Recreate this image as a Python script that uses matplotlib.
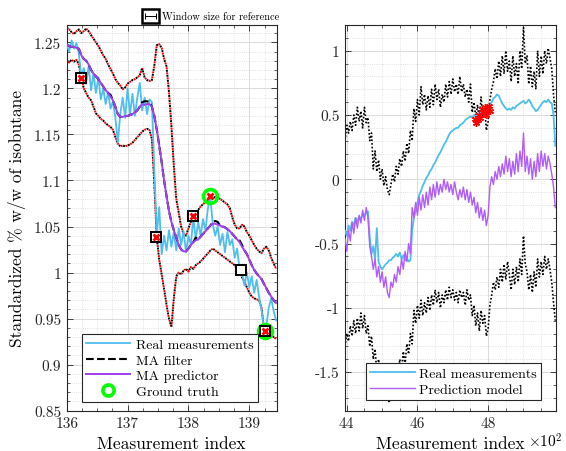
import matplotlib
matplotlib.use('Agg')
import matplotlib.pyplot as plt
from matplotlib.lines import Line2D
from matplotlib.patches import Rectangle
from matplotlib.ticker import MultipleLocator, FuncFormatter
import numpy as np

plt.rcParams.update({
    'font.family': 'cmr10', 'mathtext.fontset': 'cm',
    'axes.unicode_minus': False, 'axes.linewidth': 0.8,
    'axes.edgecolor': '#262626', 'xtick.color': '#262626', 'ytick.color': '#262626',
})

W, H = 566, 452
BLUE, PURPLE, PURPLE2 = '#4DBEEE', '#A040F0', '#B05CFA'

# ---------------- left panel data ----------------
x_left = np.arange(13600, 13945, 4) / 100.0
real_left = [1.248, 1.240, 1.252, 1.243, 1.249, 1.238, 1.212, 1.222, 1.205, 1.224,
             1.198, 1.216, 1.195, 1.212, 1.188, 1.200, 1.183, 1.196, 1.178, 1.186,
             1.168, 1.141, 1.172, 1.190, 1.168, 1.200, 1.172, 1.194, 1.170, 1.190,
             1.206, 1.176, 1.190, 1.172, 1.188, 1.185, 1.110, 1.042, 1.071, 1.020,
             1.040, 1.024, 1.046, 1.028, 1.044, 1.024, 1.048, 1.030, 1.045, 1.022,
             1.040, 1.030, 1.060, 1.036, 1.055, 1.040, 1.058, 1.046, 1.070, 1.083,
             1.052, 1.040, 1.050, 1.030, 1.042, 1.022, 1.044, 1.030, 1.036, 1.016,
             1.026, 1.004, 1.000, 0.986, 1.000, 0.984, 0.996, 0.978, 0.992, 0.974,
             0.960, 0.940, 0.942, 0.962, 0.972, 0.958, 0.948]
pred_left = [1.248, 1.246, 1.245, 1.245, 1.244, 1.243, 1.236, 1.232, 1.230, 1.226,
             1.220, 1.216, 1.213, 1.210, 1.206, 1.202, 1.198, 1.195, 1.191, 1.187,
             1.180, 1.172, 1.169, 1.169, 1.170, 1.170, 1.171, 1.172, 1.174, 1.176,
             1.180, 1.183, 1.182, 1.183, 1.183, 1.180, 1.170, 1.155, 1.138, 1.120,
             1.100, 1.083, 1.067, 1.055, 1.046, 1.038, 1.030, 1.025, 1.023, 1.023,
             1.026, 1.030, 1.033, 1.035, 1.036, 1.039, 1.042, 1.045, 1.048, 1.051,
             1.053, 1.053, 1.052, 1.051, 1.050, 1.049, 1.047, 1.045, 1.042, 1.039,
             1.036, 1.033, 1.028, 1.024, 1.020, 1.014, 1.008, 1.003, 0.999, 0.996,
             0.993, 0.988, 0.983, 0.978, 0.974, 0.970, 0.967]
ma_left = [1.248, 1.246, 1.245, 1.245, 1.244, 1.243, 1.236, 1.232, 1.230, 1.226,
           1.220, 1.216, 1.213, 1.210, 1.206, 1.202, 1.198, 1.195, 1.193, 1.187,
           1.180, 1.172, 1.169, 1.169, 1.170, 1.170, 1.171, 1.172, 1.174, 1.176,
           1.180, 1.185, 1.186, 1.186, 1.185, 1.180, 1.170, 1.155, 1.138, 1.120,
           1.100, 1.083, 1.067, 1.055, 1.046, 1.038, 1.030, 1.025, 1.023, 1.023,
           1.026, 1.030, 1.033, 1.038, 1.036, 1.039, 1.042, 1.045, 1.048, 1.051,
           1.055, 1.056, 1.055, 1.051, 1.050, 1.049, 1.047, 1.045, 1.042, 1.039,
           1.036, 1.035, 1.030, 1.024, 1.020, 1.014, 1.008, 1.003, 0.999, 0.996,
           0.993, 0.988, 0.983, 0.978, 0.974, 0.970, 0.967]
upper_left = [1.266, 1.264, 1.261, 1.259, 1.262, 1.264, 1.260, 1.262, 1.265, 1.262,
              1.258, 1.254, 1.250, 1.246, 1.241, 1.236, 1.232, 1.226, 1.221, 1.216,
              1.210, 1.206, 1.203, 1.199, 1.201, 1.205, 1.207, 1.209, 1.210, 1.212,
              1.214, 1.222, 1.212, 1.209, 1.208, 1.209, 1.225, 1.247, 1.248, 1.244,
              1.232, 1.224, 1.196, 1.159, 1.116, 1.080, 1.065, 1.050, 1.042, 1.040,
              1.048, 1.055, 1.061, 1.064, 1.068, 1.072, 1.074, 1.077, 1.079, 1.080,
              1.081, 1.082, 1.081, 1.080, 1.078, 1.076, 1.074, 1.070, 1.060, 1.052,
              1.048, 1.048, 1.052, 1.050, 1.044, 1.040, 1.035, 1.030, 1.026, 1.023,
              1.021, 1.026, 1.028, 1.024, 1.016, 1.010, 1.004]
lower_left = [1.231, 1.228, 1.231, 1.229, 1.231, 1.226, 1.212, 1.200, 1.195, 1.190,
              1.187, 1.180, 1.173, 1.170, 1.167, 1.165, 1.162, 1.160, 1.158, 1.155,
              1.147, 1.140, 1.137, 1.138, 1.137, 1.138, 1.139, 1.141, 1.144, 1.147,
              1.150, 1.153, 1.155, 1.156, 1.155, 1.145, 1.095, 1.038, 1.014, 0.998,
              0.982, 0.965, 0.950, 0.941, 0.972, 0.996, 1.000, 0.998, 1.002, 1.004,
              1.001, 1.006, 1.004, 1.008, 1.010, 1.012, 1.015, 1.018, 1.021, 1.024,
              1.026, 1.024, 1.022, 1.020, 1.018, 1.016, 1.014, 1.012, 1.010, 1.008,
              1.004, 1.000, 0.995, 0.990, 0.984, 0.978, 0.974, 0.972, 0.971, 0.970,
              0.962, 0.940, 0.938, 0.935, 0.932, 0.930, 0.928]

win_x = [136.23, 137.475, 138.07, 139.26]
win_y = [1.2116, 1.039, 1.061, 0.937]
win_empty_x, win_empty_y = [138.87], [1.0025]
truth_x = [138.36, 139.26]
truth_y = [1.083, 0.937]

# ---------------- right panel data ----------------
x_right = np.arange(4395, 4991, 5) / 100.0
real_right = [-0.40, -0.44, -0.36, -0.40, -0.33, -0.36, -0.30, -0.33, -0.29, -0.31,
              -0.27, -0.28, -0.26, -0.25, -0.45, -0.58, -0.52, -0.62, -0.38, -0.64,
              -0.68, -0.70, -0.68, -0.66, -0.65, -0.63, -0.63, -0.61, -0.60, -0.58,
              -0.60, -0.57, -0.62, -0.59, -0.63, -0.61, -0.64, -0.63, -0.40, -0.30,
              -0.24, -0.18, -0.12, -0.09, -0.05, -0.02, 0.01, 0.03, 0.06, 0.08,
              0.11, 0.13, 0.16, 0.19, 0.21, 0.24, 0.27, 0.29, 0.32, 0.35,
              0.37, 0.38, 0.39, 0.40, 0.40, 0.42, 0.43, 0.44, 0.46, 0.47,
              0.48, 0.49, 0.48, 0.50, 0.49, 0.51, 0.50, 0.52, 0.52, 0.54,
              0.55, 0.57, 0.58, 0.60, 0.63, 0.64, 0.66, 0.65, 0.62, 0.59,
              0.57, 0.55, 0.54, 0.55, 0.54, 0.56, 0.55, 0.57, 0.58, 0.59,
              0.60, 0.61, 0.59, 0.60, 0.62, 0.60, 0.57, 0.55, 0.53, 0.54,
              0.56, 0.58, 0.60, 0.61, 0.60, 0.62, 0.60, 0.59, 0.50, 0.26]
pred_right = [-0.46, -0.56, -0.40, -0.48, -0.34, -0.42, -0.30, -0.38, -0.28, -0.34,
              -0.24, -0.32, -0.22, -0.30, -0.52, -0.60, -0.70, -0.62, -0.76, -0.68,
              -0.80, -0.72, -0.84, -0.76, -0.88, -0.92, -0.80, -0.84, -0.74, -0.80,
              -0.68, -0.74, -0.62, -0.70, -0.56, -0.64, -0.50, -0.58, -0.22, -0.30,
              -0.18, -0.28, -0.14, -0.24, -0.12, -0.22, -0.10, -0.20, -0.06, -0.16,
              -0.04, -0.14, -0.02, -0.12, -0.04, -0.10, 0.00, -0.08, -0.02, -0.10,
              -0.04, -0.12, -0.02, -0.10, -0.16, -0.08, -0.14, -0.06, -0.16, -0.08,
              -0.18, -0.10, -0.20, -0.14, -0.26, -0.18, -0.30, -0.22, -0.32, -0.24,
              -0.36, -0.28, -0.06, 0.02, -0.04, 0.06, 0.00, 0.10, 0.02, 0.12,
              0.04, 0.18, 0.06, 0.16, 0.02, 0.14, 0.04, 0.20, 0.06, 0.22,
              0.10, 0.36, 0.06, 0.18, 0.04, 0.16, 0.00, 0.14, 0.02, 0.20,
              0.06, 0.22, 0.10, 0.20, 0.08, 0.18, 0.12, 0.04, -0.06, -0.22]
upper_right = [0.30, 0.42, 0.36, 0.45, 0.38, 0.50, 0.42, 0.56, 0.45, 0.53,
               0.40, 0.56, 0.44, 0.48, 0.30, 0.36, 0.08, 0.22, 0.06, 0.15,
               0.00, 0.08, -0.05, 0.02, -0.08, -0.12, -0.04, 0.04, -0.02, 0.10,
               0.04, 0.16, 0.10, 0.22, 0.14, 0.28, 0.20, 0.38, 0.30, 0.55,
               0.45, 0.62, 0.50, 0.72, 0.58, 0.66, 0.54, 0.65, 0.56, 0.70,
               0.58, 0.74, 0.62, 0.70, 0.56, 0.66, 0.60, 0.74, 0.64, 0.76,
               0.66, 0.78, 0.68, 0.74, 0.66, 0.80, 0.68, 0.74, 0.64, 0.70,
               0.60, 0.74, 0.52, 0.60, 0.48, 0.58, 0.46, 0.64, 0.48, 0.56,
               0.38, 0.45, 0.62, 0.70, 0.76, 0.86, 0.78, 0.92, 0.80, 0.96,
               0.82, 1.00, 0.84, 0.92, 0.76, 0.96, 0.80, 0.90, 0.74, 1.00,
               0.86, 1.18, 0.90, 0.96, 0.74, 0.88, 0.72, 0.84, 0.70, 1.00,
               0.80, 0.96, 0.82, 1.00, 0.90, 1.02, 0.94, 0.86, 0.66, 0.52]
lower_right = [-1.30, -1.20, -1.26, -1.14, -1.22, -1.10, -1.20, -1.08, -1.18, -1.04,
               -1.16, -1.06, -1.20, -1.14, -1.30, -1.22, -1.40, -1.32, -1.50, -1.40,
               -1.56, -1.46, -1.62, -1.55, -1.66, -1.74, -1.60, -1.52, -1.58, -1.45,
               -1.52, -1.40, -1.48, -1.34, -1.44, -1.28, -1.36, -1.20, -1.28, -1.02,
               -1.12, -0.98, -1.08, -0.94, -1.06, -0.96, -1.04, -0.92, -1.02, -0.90,
               -0.98, -0.86, -0.96, -0.88, -1.00, -0.90, -0.96, -0.86, -0.94, -0.84,
               -0.92, -0.86, -0.94, -0.88, -0.96, -0.86, -0.92, -0.88, -0.98, -0.86,
               -0.94, -0.90, -1.06, -0.98, -1.14, -1.04, -1.18, -1.02, -1.12, -1.06,
               -1.22, -1.16, -0.98, -0.90, -0.80, -0.86, -0.76, -0.84, -0.70, -0.80,
               -0.66, -0.78, -0.64, -0.74, -0.86, -0.70, -0.82, -0.68, -0.80, -0.62,
               -0.74, -0.44, -0.66, -0.72, -0.86, -0.74, -0.88, -0.72, -0.84, -0.62,
               -0.76, -0.64, -0.74, -0.60, -0.70, -0.62, -0.70, -0.80, -0.96, -1.10]
flag_x = [47.62, 47.66, 47.70, 47.73, 47.78, 47.82, 47.86, 47.90, 47.94, 47.98, 48.02, 48.05]
flag_y = [0.47, 0.44, 0.46, 0.50, 0.48, 0.55, 0.52, 0.56, 0.50, 0.54, 0.57, 0.53]


def fx(px): return px / W
def fy(py): return 1 - py / H


def style(ax, xmaj, xmin, ymaj, ymin):
    ax.xaxis.set_major_locator(MultipleLocator(xmaj))
    ax.xaxis.set_minor_locator(MultipleLocator(xmin))
    ax.yaxis.set_major_locator(MultipleLocator(ymaj))
    ax.yaxis.set_minor_locator(MultipleLocator(ymin))
    fmt = FuncFormatter(lambda v, p: '%g' % round(v, 4))
    ax.xaxis.set_major_formatter(fmt)
    ax.yaxis.set_major_formatter(fmt)
    ax.tick_params(which='both', direction='in', top=True, right=True, labelsize=11, pad=4)
    ax.tick_params(which='major', length=4, width=0.6)
    ax.tick_params(which='minor', length=2, width=0.5)
    ax.grid(True, which='major', color='#d6d6d6', lw=0.6, ls='-')
    ax.grid(True, which='minor', color='#d9d9d9', lw=0.6, ls=':')
    ax.set_axisbelow(True)


fig = plt.figure(figsize=(W / 100, H / 100), dpi=100)
fig.patch.set_facecolor('white')

ax1 = fig.add_axes([fx(66.7), fy(411.7), 210 / W, 385.7 / H])
ax2 = fig.add_axes([fx(345), fy(411.7), 211 / W, 385.7 / H])

# left panel
ax1.plot(x_left, upper_left, color='red', lw=1.4, ls=(1.3, (1, 1.6)), zorder=2)
ax1.plot(x_left, upper_left, color='black', lw=1.4, ls=(0, (1, 1.6)), zorder=2)
ax1.plot(x_left, lower_left, color='red', lw=1.4, ls=(1.3, (1, 1.6)), zorder=2)
ax1.plot(x_left, lower_left, color='black', lw=1.4, ls=(0, (1, 1.6)), zorder=2)
l_real, = ax1.plot(x_left, real_left, color=BLUE, lw=1.3, zorder=3, label='Real measurements')
l_ma, = ax1.plot(x_left, ma_left, color='black', lw=1.5, ls='--', zorder=3.5, label='MA filter')
l_pred, = ax1.plot(x_left, pred_left, color=PURPLE, lw=1.4, zorder=4, label='MA predictor')
ax1.plot(truth_x, truth_y, ls='none', marker='o', ms=10, mfc='none', mec='#00FF00', mew=2.6, zorder=5)
ax1.plot(win_x + win_empty_x, win_y + win_empty_y, ls='none', marker='s', ms=7,
         mfc='white', mec='black', mew=1.4, zorder=6)
ax1.plot(win_x, win_y, ls='none', marker='x', ms=4.5, mec='red', mew=2.0, zorder=7)
ax1.plot(truth_x[:1], truth_y[:1], ls='none', marker='x', ms=5, mec='red', mew=2.0, zorder=7)
l_truth = Line2D([], [], ls='none', marker='o', ms=8, mfc='none', mec='#00FF00', mew=2.6)

ax1.set_xlim(136.0, 139.45)
ax1.set_ylim(0.85, 1.2688)
style(ax1, 1, 0.25, 0.05, 0.01)
ax1.set_xlabel('Measurement index', fontsize=12.5, labelpad=4)
ax1.set_ylabel('Standardized % w/w of isobutane', fontsize=12.5, labelpad=6)
leg1 = ax1.legend([l_real, l_ma, l_pred, l_truth],
                  ['Real measurements', 'MA filter', 'MA predictor', 'Ground truth'],
                  loc='lower left', bbox_to_anchor=(0.071, 0.023), borderaxespad=0,
                  fontsize=10, handlelength=3.2, handletextpad=0.4, labelspacing=0.2,
                  borderpad=0.3, fancybox=False, framealpha=1, edgecolor='#262626')
leg1.get_frame().set_linewidth(0.8)

# window-size key above the left panel
fig.add_artist(Rectangle((fx(142), fy(24)), 17 / W, 14 / H, transform=fig.transFigure,
                         fill=False, ec='black', lw=1.8))
fig.add_artist(Line2D([fx(145), fx(156)], [fy(17.3), fy(17.3)], transform=fig.transFigure,
                      color='black', lw=0.7, marker='|', ms=5, mew=0.7))
fig.text(fx(162), fy(17.3), 'Window size for reference', fontsize=7.5, va='center', ha='left')

# right panel
ax2.plot(x_right, upper_right, color='black', lw=1.2, ls=(0, (1, 1.2)), zorder=2)
ax2.plot(x_right, lower_right, color='black', lw=1.2, ls=(0, (1, 1.2)), zorder=2)
r_real, = ax2.plot(x_right, real_right, color=BLUE, lw=1.3, zorder=3, label='Real measurements')
r_pred, = ax2.plot(x_right, pred_right, color=PURPLE2, lw=1.0, zorder=4, label='Prediction model')
ax2.plot(flag_x, flag_y, ls='none', marker=(6, 2, 0), ms=5, mec='red', mew=1.0, zorder=5)

ax2.set_xlim(43.95, 49.92)
ax2.set_ylim(-1.8, 1.2)
style(ax2, 2, 0.5, 0.5, 0.1)
ax2.set_xlabel('Measurement index', fontsize=12.5, labelpad=4)
fig.text(fx(528), fy(448), r'$\times10^{2}$', fontsize=11, ha='left', va='baseline')
leg2 = ax2.legend([r_real, r_pred], ['Real measurements', 'Prediction model'],
                  loc='lower left', bbox_to_anchor=(0.0995, 0.028), borderaxespad=0,
                  fontsize=10, handlelength=3.2, handletextpad=0.3, labelspacing=0.2,
                  borderpad=0.3, fancybox=False, framealpha=1, edgecolor='#262626')
leg2.get_frame().set_linewidth(0.8)

fig.savefig('out.png', dpi=100, facecolor='white')
